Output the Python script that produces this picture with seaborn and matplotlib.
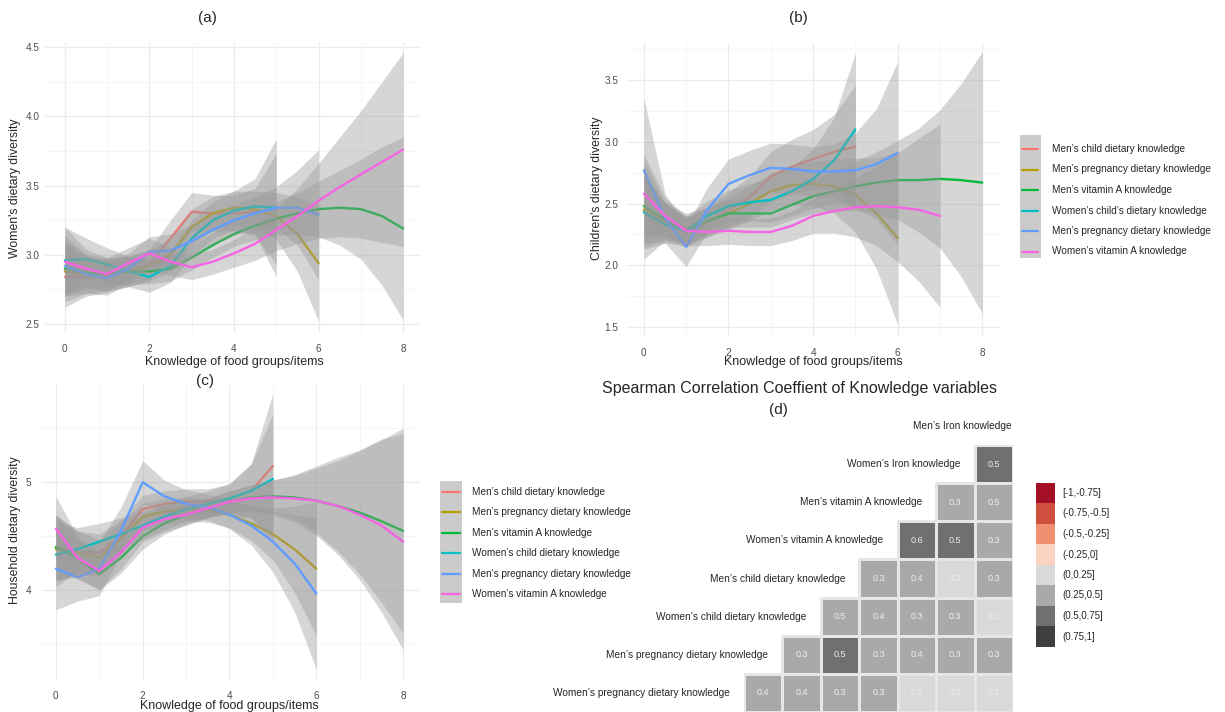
import numpy as np
import pandas as pd
import matplotlib
matplotlib.use("Agg")
import matplotlib.pyplot as plt
import seaborn as sns
from matplotlib.colors import ListedColormap, BoundaryNorm
from matplotlib.patches import Rectangle
from matplotlib.lines import Line2D

sns.set_style("white")
plt.rcParams['font.family'] = ['Liberation Sans', 'DejaVu Sans']

W, H = 1225, 712

# ---------------- data ----------------
# knowledge score grids
k05 = [0, 0.5, 1, 1.5, 2, 2.5, 3, 3.5, 4, 4.5, 5]
k06 = [0, 0.5, 1, 1.5, 2, 2.5, 3, 3.5, 4, 4.5, 5, 5.5, 6]
k07 = [0, 0.5, 1, 1.5, 2, 2.5, 3, 3.5, 4, 4.5, 5, 5.5, 6, 6.5, 7]
k08 = [0, 0.5, 1, 1.5, 2, 2.5, 3, 3.5, 4, 4.5, 5, 5.5, 6, 6.5, 7, 7.5, 8]

PALETTE = ["#F8766D", "#B79F00", "#00BA38", "#00BFC4", "#619CFF", "#F564E3"]
LEGEND_B = ["Men’s child dietary knowledge", "Men’s pregnancy dietary knowledge",
            "Men’s vitamin A knowledge", "Women’s child’s dietary knowledge",
            "Men’s pregnancy dietary knowledge", "Women’s vitamin A knowledge"]
LEGEND_C = ["Men’s child dietary knowledge", "Men’s pregnancy dietary knowledge",
            "Men’s vitamin A knowledge", "Women’s child dietary knowledge",
            "Men’s pregnancy dietary knowledge", "Women’s vitamin A knowledge"]

# (a) Women's dietary diversity: fitted values and band half-widths
a_mchild_y = [2.84, 2.84, 2.85, 2.88, 2.93, 3.12, 3.31, 3.30, 3.30, 3.31, 3.33]
a_mchild_se = [0.22, 0.14, 0.12, 0.11, 0.11, 0.13, 0.14, 0.13, 0.13, 0.17, 0.40]
a_mpreg_y = [2.88, 2.86, 2.86, 2.88, 2.92, 3.00, 3.20, 3.30, 3.34, 3.33, 3.28, 3.15, 2.94]
a_mpreg_se = [0.22, 0.14, 0.12, 0.11, 0.11, 0.12, 0.13, 0.12, 0.12, 0.13, 0.17, 0.27, 0.42]
a_mvita_y = [2.90, 2.87, 2.86, 2.88, 2.88, 2.90, 2.98, 3.07, 3.15, 3.21, 3.26, 3.30, 3.33, 3.34, 3.33, 3.28, 3.19]
a_mvita_se = [0.18, 0.11, 0.10, 0.09, 0.09, 0.09, 0.09, 0.09, 0.09, 0.10, 0.12, 0.15, 0.20, 0.27, 0.36, 0.50, 0.66]
a_wchild_y = [2.96, 2.97, 2.93, 2.88, 2.84, 2.92, 3.12, 3.25, 3.32, 3.35, 3.34]
a_wchild_se = [0.24, 0.15, 0.12, 0.11, 0.11, 0.12, 0.13, 0.13, 0.14, 0.20, 0.50]
a_wpreg_y = [2.92, 2.86, 2.83, 2.90, 3.02, 3.03, 3.10, 3.18, 3.25, 3.30, 3.34, 3.34, 3.29]
a_wpreg_se = [0.22, 0.14, 0.12, 0.11, 0.11, 0.12, 0.12, 0.11, 0.11, 0.12, 0.15, 0.27, 0.47]
a_wvita_y = [2.95, 2.90, 2.86, 2.94, 3.01, 2.95, 2.91, 2.95, 3.01, 3.08, 3.18, 3.28, 3.39, 3.49, 3.58, 3.67, 3.76]
a_wvita_se = [0.25, 0.14, 0.12, 0.11, 0.11, 0.10, 0.09, 0.09, 0.10, 0.12, 0.15, 0.20, 0.27, 0.36, 0.46, 0.58, 0.70]

# (b) Children's dietary diversity
b_mchild_y = [2.45, 2.35, 2.27, 2.35, 2.45, 2.55, 2.72, 2.80, 2.86, 2.92, 2.96]
b_mchild_se = [0.40, 0.15, 0.12, 0.12, 0.14, 0.17, 0.20, 0.22, 0.24, 0.30, 0.50]
b_mpreg_y = [2.45, 2.36, 2.30, 2.35, 2.42, 2.50, 2.60, 2.65, 2.66, 2.64, 2.57, 2.42, 2.22]
b_mpreg_se = [0.30, 0.15, 0.12, 0.12, 0.13, 0.14, 0.15, 0.16, 0.18, 0.22, 0.30, 0.45, 0.70]
b_mvita_y = [2.48, 2.37, 2.28, 2.36, 2.42, 2.42, 2.42, 2.49, 2.56, 2.60, 2.64, 2.67, 2.69, 2.69, 2.70, 2.69, 2.67]
b_mvita_se = [0.25, 0.14, 0.11, 0.11, 0.11, 0.11, 0.11, 0.12, 0.14, 0.16, 0.20, 0.25, 0.32, 0.42, 0.56, 0.78, 1.06]
b_wchild_y = [2.43, 2.33, 2.28, 2.40, 2.48, 2.51, 2.53, 2.60, 2.70, 2.85, 3.10]
b_wchild_se = [0.30, 0.15, 0.12, 0.12, 0.13, 0.15, 0.18, 0.20, 0.24, 0.35, 0.62]
b_wpreg_y = [2.77, 2.38, 2.15, 2.45, 2.66, 2.73, 2.79, 2.78, 2.76, 2.76, 2.77, 2.82, 2.91]
b_wpreg_se = [0.58, 0.20, 0.16, 0.18, 0.20, 0.20, 0.20, 0.20, 0.20, 0.22, 0.30, 0.45, 0.74]
b_wvita_y = [2.58, 2.40, 2.28, 2.27, 2.28, 2.27, 2.27, 2.32, 2.40, 2.44, 2.47, 2.48, 2.47, 2.45, 2.40]
b_wvita_se = [0.32, 0.15, 0.12, 0.11, 0.11, 0.11, 0.11, 0.12, 0.14, 0.18, 0.24, 0.32, 0.44, 0.58, 0.74]

# (c) Household dietary diversity
c_mchild_y = [4.40, 4.35, 4.35, 4.50, 4.75, 4.80, 4.82, 4.82, 4.84, 4.92, 5.15]
c_mchild_se = [0.30, 0.20, 0.17, 0.15, 0.13, 0.12, 0.12, 0.12, 0.14, 0.25, 0.67]
c_mpreg_y = [4.38, 4.35, 4.30, 4.48, 4.68, 4.73, 4.75, 4.74, 4.70, 4.62, 4.52, 4.38, 4.20]
c_mpreg_se = [0.30, 0.20, 0.17, 0.15, 0.13, 0.12, 0.11, 0.11, 0.12, 0.16, 0.24, 0.40, 0.62]
c_mvita_y = [4.40, 4.30, 4.15, 4.30, 4.50, 4.62, 4.70, 4.76, 4.82, 4.86, 4.87, 4.86, 4.83, 4.78, 4.72, 4.64, 4.55]
c_mvita_se = [0.30, 0.18, 0.15, 0.14, 0.12, 0.10, 0.09, 0.09, 0.10, 0.12, 0.15, 0.20, 0.30, 0.42, 0.57, 0.75, 0.95]
c_wchild_y = [4.33, 4.38, 4.45, 4.52, 4.60, 4.68, 4.75, 4.80, 4.85, 4.92, 5.03]
c_wchild_se = [0.30, 0.20, 0.17, 0.15, 0.13, 0.12, 0.12, 0.12, 0.14, 0.25, 0.60]
c_wpreg_y = [4.20, 4.12, 4.20, 4.55, 5.00, 4.87, 4.80, 4.77, 4.70, 4.60, 4.45, 4.25, 3.97]
c_wpreg_se = [0.38, 0.22, 0.25, 0.22, 0.20, 0.15, 0.13, 0.12, 0.13, 0.18, 0.28, 0.45, 0.70]
c_wvita_y = [4.57, 4.30, 4.18, 4.35, 4.58, 4.66, 4.70, 4.76, 4.82, 4.85, 4.86, 4.85, 4.83, 4.78, 4.70, 4.60, 4.45]
c_wvita_se = [0.30, 0.20, 0.17, 0.15, 0.13, 0.12, 0.10, 0.09, 0.10, 0.12, 0.16, 0.22, 0.32, 0.45, 0.60, 0.80, 1.00]

# (d) Spearman correlations (lower triangle, rows top -> bottom)
nan = np.nan
corr_row1 = [nan, nan, nan, nan, nan, nan, 0.52]
corr_row2 = [nan, nan, nan, nan, nan, 0.30, 0.48]
corr_row3 = [nan, nan, nan, nan, 0.58, 0.52, 0.30]
corr_row4 = [nan, nan, nan, 0.30, 0.40, 0.20, 0.30]
corr_row5 = [nan, nan, 0.48, 0.40, 0.30, 0.30, 0.20]
corr_row6 = [nan, 0.30, 0.52, 0.30, 0.40, 0.30, 0.30]
corr_row7 = [0.40, 0.40, 0.30, 0.30, 0.20, 0.20, 0.10]
corr_row_labels = ["Women’s Iron knowledge", "Men’s vitamin A knowledge",
                   "Women’s vitamin A knowledge", "Men’s child dietary knowledge",
                   "Women’s child dietary knowledge", "Men’s pregnancy dietary knowledge",
                   "Women’s pregnancy dietary knowledge"]
corr_top_label = "Men’s Iron knowledge"
corr_breaks = [-1, -0.75, -0.5, -0.25, 0, 0.25, 0.5, 0.75, 1]
corr_bin_labels = ["[-1,-0.75]", "(-0.75,-0.5]", "(-0.5,-0.25]", "(-0.25,0]",
                   "(0,0.25]", "(0.25,0.5]", "(0.5,0.75]", "(0.75,1]"]
corr_colors = ["#a50f26", "#d0503f", "#f09070", "#fbd3c0",
               "#d9d9d9", "#a9a9a9", "#707070", "#3f3f3f"]

# ---------------- helpers ----------------
def px_rect(l, t, r, b):
    return [l / W, 1 - b / H, (r - l) / W, (b - t) / H]

def fx(x):
    return x / W

def fy(y):
    return 1 - y / H

fig = plt.figure(figsize=(W / 100, H / 100), dpi=100)
fig.patch.set_facecolor("white")

TICK_COL = "#4d4d4d"


def smooth_panel(ax, series, xlim, ylim, yticks, yticklabels, yminor):
    for (x, y, se), col in zip(series, PALETTE):
        x = np.asarray(x, float)
        y = np.asarray(y, float)
        se = np.asarray(se, float)
        ax.fill_between(x, y - se, y + se, color="#999999", alpha=0.4,
                        linewidth=0, zorder=2)
        sns.lineplot(x=x, y=y, color=col, linewidth=1.7, ax=ax, zorder=2,
                     sort=False, estimator=None)
    ax.set_xlim(*xlim)
    ax.set_ylim(*ylim)
    ax.set_xticks([0, 2, 4, 6, 8])
    ax.set_xticklabels(["0", "2", "4", "6", "8"])
    ax.set_xticks([1, 3, 5, 7], minor=True)
    ax.set_yticks(yticks)
    ax.set_yticklabels(yticklabels)
    ax.set_yticks(yminor, minor=True)
    ax.grid(True, which="major", color="#ebebeb", linewidth=0.9, zorder=0)
    ax.grid(True, which="minor", color="#f4f4f4", linewidth=0.6, zorder=0)
    ax.set_axisbelow(True)
    for s in ax.spines.values():
        s.set_visible(False)
    ax.tick_params(which="both", length=0, colors=TICK_COL, labelsize=7.2)
    ax.tick_params(axis="x", pad=8)
    ax.tick_params(axis="y", pad=4)
    ax.set_xlabel("")
    ax.set_ylabel("")


# (a)
ax_a = fig.add_axes(px_rect(45, 43, 420, 333))
smooth_panel(ax_a,
             [(k05, a_mchild_y, a_mchild_se), (k06, a_mpreg_y, a_mpreg_se),
              (k08, a_mvita_y, a_mvita_se), (k05, a_wchild_y, a_wchild_se),
              (k06, a_wpreg_y, a_wpreg_se), (k08, a_wvita_y, a_wvita_se)],
             (-0.47, 8.4), (2.435, 4.53),
             [2.5, 3.0, 3.5, 4.0, 4.5], ["2.5", "3.0", "3.5", "4.0", "4.5"],
             [2.75, 3.25, 3.75, 4.25])
fig.text(fx(207), fy(18), "(a)", ha="center", va="center", fontsize=11)
fig.text(fx(234), fy(362), "Knowledge of food groups/items", ha="center", va="center", fontsize=9)
fig.text(fx(15), fy(188), "Women's dietary diversity", rotation=90, ha="center", va="center", fontsize=8.8)

# (b)
ax_b = fig.add_axes(px_rect(627, 43, 1000, 337))
smooth_panel(ax_b,
             [(k05, b_mchild_y, b_mchild_se), (k06, b_mpreg_y, b_mpreg_se),
              (k08, b_mvita_y, b_mvita_se), (k05, b_wchild_y, b_wchild_se),
              (k06, b_wpreg_y, b_wpreg_se), (k07, b_wvita_y, b_wvita_se)],
             (-0.40, 8.42), (1.42, 3.8),
             [1.5, 2.0, 2.5, 3.0, 3.5], ["1.5", "2.0", "2.5", "3.0", "3.5"],
             [1.75, 2.25, 2.75, 3.25, 3.75])
ax_b.tick_params(axis="y", pad=6)
fig.text(fx(798), fy(18), "(b)", ha="center", va="center", fontsize=11)
fig.text(fx(813), fy(362), "Knowledge of food groups/items", ha="center", va="center", fontsize=9)
fig.text(fx(597), fy(188), "Children's dietary diversity", rotation=90, ha="center", va="center", fontsize=8.8)

# (c)
ax_c = fig.add_axes(px_rect(42, 385, 420, 680))
smooth_panel(ax_c,
             [(k05, c_mchild_y, c_mchild_se), (k06, c_mpreg_y, c_mpreg_se),
              (k08, c_mvita_y, c_mvita_se), (k05, c_wchild_y, c_wchild_se),
              (k06, c_wpreg_y, c_wpreg_se), (k08, c_wvita_y, c_wvita_se)],
             (-0.32, 8.39), (3.17, 5.9),
             [4, 5], ["4", "5"], [3.5, 4.5, 5.5])
ax_c.tick_params(axis="y", pad=8)
fig.text(fx(205), fy(381), "(c)", ha="center", va="center", fontsize=11)
fig.text(fx(229), fy(706), "Knowledge of food groups/items", ha="center", va="center", fontsize=9)
fig.text(fx(15), fy(530), "Household dietary diversity", rotation=90, ha="center", va="center", fontsize=8.8)


# line legends
def line_legend(bg, x0, x1, y0, dy, xt, labels):
    l, t, r, b = bg
    fig.add_artist(Rectangle((fx(l), fy(b)), (r - l) / W, (b - t) / H,
                             transform=fig.transFigure, facecolor="#cbcbcb",
                             edgecolor="none"))
    for i, (lab, col) in enumerate(zip(labels, PALETTE)):
        yy = y0 + i * dy
        fig.add_artist(Line2D([fx(x0), fx(x1)], [fy(yy), fy(yy)],
                              transform=fig.transFigure, color=col, linewidth=1.6))
        fig.text(fx(xt), fy(yy), lab, ha="left", va="center", fontsize=7.2)


line_legend((1020, 135, 1041, 258), 1022, 1038, 149, 20.5, 1052, LEGEND_B)
line_legend((440, 481, 462, 603), 442, 460, 492, 20.4, 472, LEGEND_C)

# (d) correlation heatmap
corr = pd.DataFrame([corr_row1, corr_row2, corr_row3, corr_row4,
                     corr_row5, corr_row6, corr_row7])
cmap = ListedColormap(corr_colors)
norm = BoundaryNorm(corr_breaks, cmap.N)
ax_d = fig.add_axes(px_rect(744, 445, 1013, 712))
sns.heatmap(corr, mask=corr.isna(), cmap=cmap, norm=norm, annot=True, fmt=".1f",
            annot_kws={"color": "#eeeeee", "fontsize": 6.5},
            cbar=False, linewidths=0.8, linecolor="#e6e6e6",
            xticklabels=False, yticklabels=False, ax=ax_d)
# hide cell borders of the masked (upper) triangle
mesh = ax_d.collections[0]
masked_flat = corr.isna().to_numpy().ravel()
mesh.set_edgecolor([(0, 0, 0, 0) if m else (0.9, 0.9, 0.9, 1.0) for m in masked_flat])
ax_d.set_xlabel("")
ax_d.set_ylabel("")
ax_d.set_facecolor("none")
ncol = corr.shape[1]
for i, lab in enumerate(corr_row_labels):
    first = int(np.argmax(~np.isnan(corr.iloc[i].to_numpy())))
    ax_d.text(first - 0.37, i + 0.5, lab, ha="right", va="center",
              fontsize=7.3, clip_on=False)
ax_d.text(ncol - 0.03, -0.5, corr_top_label, ha="right", va="center",
          fontsize=7.3, clip_on=False)

fig.text(fx(800), fy(388), "Spearman Correlation Coeffient of Knowledge variables",
         ha="center", va="center", fontsize=11.5)
fig.text(fx(778), fy(410), "(d)", ha="center", va="center", fontsize=11)

# heatmap legend
for i, (lab, col) in enumerate(zip(corr_bin_labels, corr_colors)):
    yc = 493 + i * 20.5
    fig.add_artist(Rectangle((fx(1036), fy(yc + 10)), 19 / W, 20.5 / H,
                             transform=fig.transFigure, facecolor=col,
                             edgecolor="none"))
    fig.text(fx(1062), fy(yc), lab, ha="left", va="center", fontsize=7)

fig.savefig("out.png", dpi=100)
